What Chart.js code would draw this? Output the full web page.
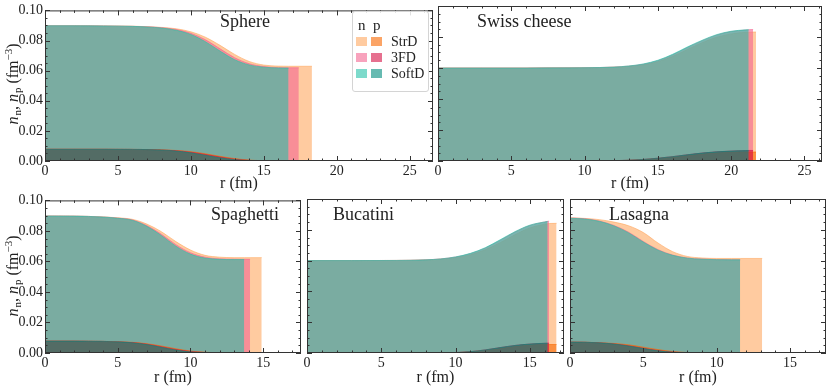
<!DOCTYPE html>
<html>
<head>
<meta charset="utf-8">
<script src="https://cdn.jsdelivr.net/npm/chart.js@4.4.0/dist/chart.umd.min.js"></script>
<style>
  body { margin: 0; background: #fff; width: 830px; height: 388px; position: relative; overflow: hidden;
         font-family: 'Liberation Serif', serif; color: #222; }
  .wrap { position: absolute; }
  .lab { position: absolute; font-size: 18px; line-height: 18px; white-space: nowrap; }
  .ytitle { position: absolute; font-size: 16px; white-space: nowrap; transform: translate(-50%, -50%) rotate(-90deg); }
  .ytitle sub { font-size: 11px; vertical-align: -3px; margin-left: 1px; }
  .ytitle sup { font-size: 11px; vertical-align: 6px; }
  #legend { position: absolute; left: 352px; top: 11px; width: 75px; height: 79px; border: 1px solid #d4d4d4;
            border-radius: 3px; background: rgba(255,255,255,0.85); font-size: 14px; }
  #legend .sw { position: absolute; width: 11px; height: 9px; }
  #legend .t { position: absolute; line-height: 14px; }
  #legend .h { position: absolute; line-height: 15px; font-size: 15px; }
</style>
</head>
<body>
<div id="legend"></div>
<script>
// models and colours
var models = ['StrD', '3FD', 'SoftD'];
var nColors = ['rgba(255,168,97,0.6)', 'rgba(243,102,145,0.6)', 'rgba(38,193,168,0.6)'];
var pColors = ['rgba(248,104,0,0.6)', 'rgba(213,17,68,0.6)', 'rgba(0,140,125,0.6)'];

var yTicks = [0, 0.02, 0.04, 0.06, 0.08, 0.10];
var xTicksTop = [0, 5, 10, 15, 20, 25];
var xTicksBottom = [0, 5, 10, 15];

// Sphere
var sphereR = [0, 2, 4, 6, 7, 8, 9, 10, 11, 12, 13, 14, 15, 16, 16.7, 17.4, 18.3];
var sphereNStrD  = [.0898, .0898, .0897, .0895, .0892, .0887, .0878, .0858, .0822, .0768, .0708, .0661, .0637, .0630, .0629, .0629, .0629];
var sphereN3FD   = [.0898, .0898, .0897, .0894, .0891, .0885, .0873, .0848, .0805, .0745, .0686, .0646, .0627, .0620, .0619, .0619];
var sphereNSoftD = [.0898, .0898, .0897, .0894, .0890, .0883, .0868, .0840, .0792, .0730, .0673, .0638, .0623, .0618, .0617];
var spherePStrD  = [.0078, .0078, .0078, .0077, .0076, .0074, .0070, .0062, .0048, .0031, .0016, .0006, .0002, 0, 0, 0, 0];
var sphereP3FD   = [.0078, .0078, .0078, .0077, .0076, .0073, .0068, .0058, .0043, .0026, .0012, .0004, .0001, 0, 0, 0];
var spherePSoftD = [.0078, .0078, .0078, .0077, .0076, .0073, .0066, .0054, .0038, .0021, .0009, .0003, .0001, 0, 0];

// Swiss cheese
var swissR = [0, 3, 6, 9, 11, 12, 13, 14, 15, 16, 17, 18, 19, 20, 21, 21.2, 21.5, 21.7];
var swissNStrD  = [.0600, .0600, .0600, .0601, .0602, .0605, .0610, .0620, .0640, .0674, .0718, .0762, .0798, .0820, .0830, .0831, .0832, .0832];
var swissN3FD   = [.0600, .0600, .0600, .0601, .0603, .0606, .0612, .0624, .0647, .0684, .0731, .0775, .0812, .0835, .0845, .0847, .0848];
var swissNSoftD = [.0600, .0600, .0600, .0601, .0603, .0606, .0613, .0626, .0650, .0688, .0735, .0778, .0815, .0837, .0846, .0847];
var swissPStrD  = [0, 0, 0, 0, .0001, .0002, .0004, .0008, .0015, .0024, .0034, .0044, .0051, .0056, .0058, .0058, .0058, .0058];
var swissP3FD   = [0, 0, 0, 0, .0001, .0002, .0005, .0010, .0018, .0028, .0040, .0051, .0059, .0064, .0067, .0068, .0068];
var swissPSoftD = [0, 0, 0, 0, .0001, .0002, .0005, .0010, .0018, .0028, .0040, .0051, .0059, .0064, .0067, .0067];

// Spaghetti
var spagR = [0, 2, 3, 4, 5, 6, 7, 8, 9, 10, 11, 12, 13, 13.7, 14.1, 14.9];
var spagNStrD  = [.0898, .0897, .0895, .0892, .0886, .0876, .0845, .0795, .0730, .0675, .0640, .0628, .0625, .0625, .0625, .0625];
var spagN3FD   = [.0898, .0897, .0895, .0891, .0884, .0872, .0835, .0778, .0710, .0657, .0628, .0617, .0615, .0614, .0614];
var spagNSoftD = [.0898, .0897, .0895, .0891, .0883, .0870, .0830, .0770, .0700, .0648, .0622, .0614, .0612, .0612];
var spagPStrD  = [.0078, .0078, .0077, .0076, .0074, .0070, .0061, .0046, .0028, .0013, .0005, .0001, 0, 0, 0, 0];
var spagP3FD   = [.0078, .0078, .0077, .0076, .0073, .0068, .0058, .0041, .0023, .0010, .0003, .0001, 0, 0, 0];
var spagPSoftD = [.0078, .0078, .0077, .0076, .0073, .0067, .0055, .0037, .0019, .0007, .0002, 0, 0, 0];

// Bucatini
var bucR = [0, 3, 6, 8, 9, 10, 11, 12, 13, 14, 15, 16, 16.2, 16.3, 16.8];
var bucNStrD  = [.0600, .0600, .0601, .0604, .0609, .0619, .0638, .0670, .0716, .0768, .0812, .0836, .0840, .0841, .0842];
var bucN3FD   = [.0600, .0600, .0601, .0605, .0611, .0623, .0645, .0681, .0731, .0785, .0828, .0851, .0855, .0856];
var bucNSoftD = [.0600, .0600, .0601, .0605, .0611, .0624, .0647, .0684, .0735, .0788, .0830, .0851, .0854];
var bucPStrD  = [0, 0, 0, 0, .0001, .0002, .0007, .0016, .0029, .0042, .0051, .0055, .0055, .0055, .0055];
var bucP3FD   = [0, 0, 0, 0, .0001, .0003, .0009, .0020, .0035, .0049, .0058, .0063, .0064, .0064];
var bucPSoftD = [0, 0, 0, 0, .0001, .0003, .0009, .0020, .0035, .0049, .0058, .0063, .0063];

// Lasagna
var lasR = [0, 1, 2, 3, 4, 5, 6, 7, 8, 9, 10, 11, 11.6, 13.1];
var lasNStrD  = [.0878, .0874, .0866, .0850, .0826, .0782, .0714, .0658, .0627, .0617, .0614, .0614, .0614, .0614];
var lasN3FD   = [.0877, .0872, .0857, .0828, .0784, .0724, .0671, .0636, .0617, .0610, .0607, .0606, .0606];
var lasNSoftD = [.0875, .0870, .0855, .0825, .0780, .0720, .0668, .0634, .0616, .0609, .0606, .0605, .0605];
var lasPStrD  = [.0071, .0070, .0067, .0062, .0053, .0038, .0022, .0010, .0003, .0001, 0, 0, 0, 0];
var lasP3FD   = [.0071, .0070, .0066, .0059, .0047, .0031, .0016, .0006, .0002, 0, 0, 0, 0];
var lasPSoftD = [.0071, .0070, .0066, .0058, .0045, .0029, .0014, .0005, .0001, 0, 0, 0, 0];

var panels = [
  {name: 'Sphere', r: sphereR, n: [sphereNStrD, sphereN3FD, sphereNSoftD], p: [spherePStrD, sphereP3FD, spherePSoftD],
   xmax: 26.6, xt: xTicksTop, box: {l: 45, r: 433, t: 6, b: 161}, row: {t: 0, h: 193}, yl: true, lab: [220, 12]},
  {name: 'Swiss cheese', r: swissR, n: [swissNStrD, swissN3FD, swissNSoftD], p: [swissPStrD, swissP3FD, swissPSoftD],
   xmax: 26.2, xt: xTicksTop, box: {l: 438, r: 822, t: 6, b: 161}, row: {t: 0, h: 193}, yl: false, lab: [477, 12]},
  {name: 'Spaghetti', r: spagR, n: [spagNStrD, spagN3FD, spagNSoftD], p: [spagPStrD, spagP3FD, spagPSoftD],
   xmax: 17.6, xt: xTicksBottom, box: {l: 45, r: 301, t: 199, b: 353}, row: {t: 190, h: 197}, yl: true, lab: [211, 205]},
  {name: 'Bucatini', r: bucR, n: [bucNStrD, bucN3FD, bucNSoftD], p: [bucPStrD, bucP3FD, bucPSoftD],
   xmax: 17.3, xt: xTicksBottom, box: {l: 307, r: 564, t: 199, b: 353}, row: {t: 190, h: 197}, yl: false, lab: [333, 205]},
  {name: 'Lasagna', r: lasR, n: [lasNStrD, lasN3FD, lasNSoftD], p: [lasPStrD, lasP3FD, lasPSoftD],
   xmax: 17.45, xt: xTicksBottom, box: {l: 570, r: 826, t: 199, b: 353}, row: {t: 190, h: 197}, yl: false, lab: [609, 205]}
];

// frame + inward ticks on all four sides
var frameTicks = {
  id: 'frameTicks',
  afterDatasetsDraw: function(chart) {
    var ctx = chart.ctx, a = chart.chartArea;
    var xs = chart.scales.x, ys = chart.scales.y;
    ctx.save();
    ctx.strokeStyle = '#333';
    ctx.lineWidth = 1;
    ctx.beginPath();
    for (var i = 0; i <= Math.floor(xs.max); i++) {
      var px = Math.round(xs.getPixelForValue(i)) + 0.5;
      var len = (i % 5 === 0) ? 5 : 2.5;
      ctx.moveTo(px, a.bottom); ctx.lineTo(px, a.bottom - len);
      ctx.moveTo(px, a.top); ctx.lineTo(px, a.top + len);
    }
    for (var j = 0; j <= 20; j++) {
      var py = Math.round(ys.getPixelForValue(j * 0.005)) + 0.5;
      var ln = (j % 4 === 0) ? 5 : 2.5;
      ctx.moveTo(a.left, py); ctx.lineTo(a.left + ln, py);
      ctx.moveTo(a.right, py); ctx.lineTo(a.right - ln, py);
    }
    ctx.stroke();
    ctx.strokeRect(a.left + 0.5, a.top + 0.5, a.right - a.left - 1, a.bottom - a.top - 1);
    ctx.restore();
  }
};

function ds(r, vals, c) {
  return {
    data: vals.map(function(v, k) { return {x: r[k], y: v}; }),
    fill: 'origin', backgroundColor: c, borderColor: c, borderWidth: 1,
    pointRadius: 0, cubicInterpolationMode: 'monotone'
  };
}

function makePanel(p) {
  var left = p.box.l - 45, width = p.box.r - left + 3;
  var wrap = document.createElement('div');
  wrap.className = 'wrap';
  wrap.style.left = left + 'px';
  wrap.style.top = p.row.t + 'px';
  var cv = document.createElement('canvas');
  cv.width = width; cv.height = p.row.h;
  wrap.appendChild(cv);
  document.body.insertBefore(wrap, document.getElementById('legend'));

  var datasets = [];
  for (var i = 2; i >= 0; i--) datasets.push(ds(p.r, p.p[i], pColors[i]));
  for (var i = 2; i >= 0; i--) datasets.push(ds(p.r, p.n[i], nColors[i]));

  var padTop = p.box.t - p.row.t;
  var xH = p.row.t + p.row.h - p.box.b;
  new Chart(cv, {
    type: 'line',
    data: {datasets: datasets},
    options: {
      responsive: false, animation: false, devicePixelRatio: 1,
      layout: {padding: {top: padTop, right: 3, left: 0, bottom: 0}},
      plugins: {legend: {display: false}, tooltip: {enabled: false}},
      scales: {
        x: {
          type: 'linear', min: 0, max: p.xmax,
          grid: {display: false, drawTicks: false}, border: {display: false},
          afterBuildTicks: function(s) { s.ticks = p.xt.map(function(v) { return {value: v}; }); },
          afterFit: function(s) { s.height = xH; },
          ticks: {padding: 2, color: '#222', maxRotation: 0,
                  font: {family: 'Liberation Serif', size: 14}},
          title: {display: true, text: 'r (fm)', color: '#222', padding: 0,
                  font: {family: 'Liberation Serif', size: 16, lineHeight: 1.2}}
        },
        y: {
          min: 0, max: 0.1,
          grid: {display: false, drawTicks: false}, border: {display: false},
          afterBuildTicks: function(s) { s.ticks = yTicks.map(function(v) { return {value: v}; }); },
          afterFit: function(s) { s.width = 45; },
          ticks: {display: p.yl, padding: 2, color: '#222',
                  font: {family: 'Liberation Serif', size: 14},
                  callback: function(v) { return v.toFixed(2); }}
        }
      }
    },
    plugins: [frameTicks]
  });

  var lab = document.createElement('div');
  lab.className = 'lab';
  lab.textContent = p.name;
  lab.style.left = p.lab[0] + 'px';
  lab.style.top = p.lab[1] + 'px';
  document.body.appendChild(lab);
}

panels.forEach(makePanel);

// y titles
[83.5, 276].forEach(function(cy) {
  var t = document.createElement('div');
  t.className = 'ytitle';
  t.innerHTML = '<i>n</i><sub>n</sub>, <i>n</i><sub>p</sub> (fm<sup>\u22123</sup>)';
  t.style.left = '12px';
  t.style.top = cy + 'px';
  document.body.appendChild(t);
});

// legend
var lg = document.getElementById('legend');
function put(cls, x, y, txt, bg) {
  var e = document.createElement('div');
  e.className = cls;
  e.style.left = x + 'px'; e.style.top = y + 'px';
  if (txt) e.textContent = txt;
  if (bg) e.style.background = bg;
  lg.appendChild(e);
}
put('h', 5, 6, 'n');
put('h', 20, 6, 'p');
var rowTops = [25, 41, 57];
models.forEach(function(m, i) {
  put('sw', 3, rowTops[i], null, nColors[i]);
  put('sw', 18, rowTops[i], null, pColors[i]);
  put('t', 38, rowTops[i] - 2, m);
});
</script>
</body>
</html>
